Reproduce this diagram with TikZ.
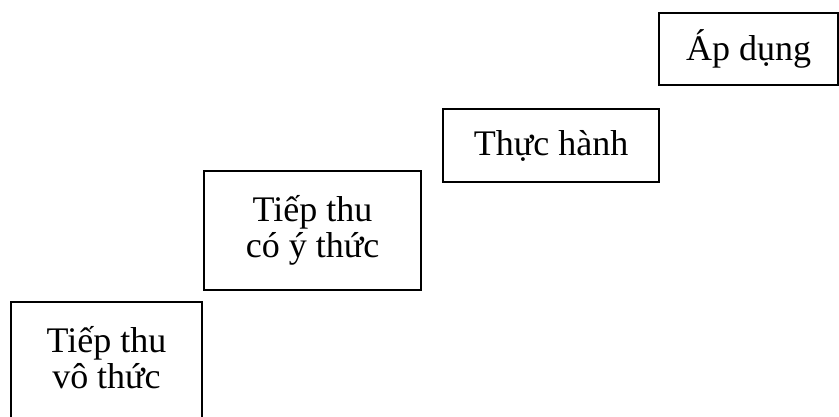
\documentclass[tikz,border=0pt]{standalone}
\usepackage{fontspec}
\setmainfont{Liberation Serif}
\begin{document}
\begin{tikzpicture}[x=0.75pt,y=-0.75pt,
        stepbox/.style={draw,line width=1.3pt,align=center,inner sep=0pt,
            font=\fontsize{27}{27}\selectfont},
        steptext/.style={align=center,inner sep=0pt,font=\fontsize{27}{27}\selectfont}]
        \useasboundingbox (0,0) rectangle (839,417);
        \clip (0,0) rectangle (839,417);
        % bottom step runs off the page
        \node[stepbox,anchor=north,minimum width=143.25pt,minimum height=120pt] (vothuc) at (106.5,301) {};
        \node[steptext] (vothuctext) at (106.5,357.5) {Tiếp thu\\vô thức};
        \node[stepbox,minimum width=162.75pt,minimum height=89.25pt] (cothuc) at (312.5,230.5) {Tiếp thu\\có ý thức};
        \node[stepbox,minimum width=162pt,minimum height=54.75pt] (thuchanh) at (551,145.5) {Thực hành};
        \node[stepbox,minimum width=134.25pt,minimum height=54pt] (apdung) at (748.5,49) {Áp dụng};
    \end{tikzpicture}
\end{document}
